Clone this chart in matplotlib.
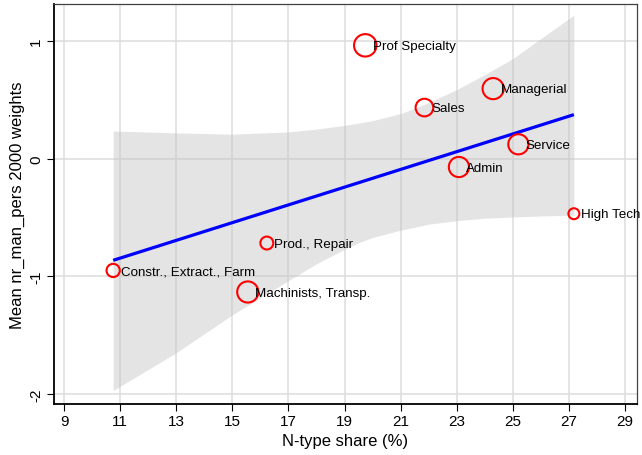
import numpy as np
import matplotlib
matplotlib.use("Agg")
import matplotlib.pyplot as plt

plt.rcParams['font.family'] = ['Liberation Sans', 'DejaVu Sans']

# occupation groups: N-type share (%) vs mean outcome, marker area = weight
labels = ['Prof Specialty', 'Managerial', 'Sales', 'Service', 'Admin',
          'High Tech', 'Prod., Repair', 'Constr., Extract., Farm',
          'Machinists, Transp.']
ntype_share = [19.74, 24.30, 21.85, 25.20, 23.08, 27.18, 16.23, 10.75, 15.55]
mean_val = [0.963, 0.595, 0.434, 0.122, -0.071, -0.468, -0.717, -0.950, -1.133]
weights = [12.6, 11.2, 7.8, 10.2, 10.2, 3.0, 4.2, 4.4, 11.2]

# fitted line and its confidence band
fit_x = [10.75, 27.18]
fit_y = [-0.864, 0.374]
band_x = [10.75, 13, 15, 17, 18, 19, 19.5, 20, 21, 22, 23, 24, 25, 26, 27.18]
band_hi = [0.235, 0.219, 0.208, 0.227, 0.251, 0.283, 0.302, 0.323, 0.383,
           0.476, 0.587, 0.714, 0.850, 1.02, 1.22]
band_lo = [-1.970, -1.649, -1.327, -1.037, -0.893, -0.770, -0.714, -0.670,
           -0.608, -0.557, -0.527, -0.506, -0.496, -0.487, -0.480]

xticks = list(range(9, 30, 2))
yticks = [-2, -1, 0, 1]

fig = plt.figure(figsize=(6.42, 4.56), dpi=100)
ax = fig.add_axes([0.0841, 0.1118, 0.9081, 0.8772])

ax.set_xlim(8.64, 29.43)
ax.set_ylim(-2.085, 1.314)

ax.set_xticks(xticks)
ax.set_yticks(yticks)
ax.set_yticklabels([str(t) for t in yticks], rotation=90, va='center')
ax.grid(True, color='#dcdcdc', lw=1.1, zorder=0)
ax.set_axisbelow(True)

ax.fill_between(band_x, band_lo, band_hi, color='#c4c4c4', alpha=0.45,
                lw=0, zorder=1)
ax.plot(fit_x, fit_y, color='#0000ff', lw=2.3, zorder=2,
        solid_capstyle='butt')

sizes = np.array(weights) * 20.7
ax.scatter(ntype_share, mean_val, s=sizes, facecolors='none',
           edgecolors='#ff0000', linewidths=1.5, zorder=3)

for lab, x, y in zip(labels, ntype_share, mean_val):
    ax.annotate(lab, (x, y), xytext=(5.3, -0.5), textcoords='offset points',
                ha='left', va='center', fontsize=9.6, color='black',
                zorder=4)

ax.tick_params(axis='both', direction='out', length=5, width=0.8,
               labelsize=11, colors='black')
ax.tick_params(axis='x', pad=2)
ax.tick_params(axis='y', pad=3)

for side in ['left', 'bottom']:
    ax.spines[side].set_color('black')
    ax.spines[side].set_linewidth(1.3)
for side in ['top', 'right']:
    ax.spines[side].set_color('#404040')
    ax.spines[side].set_linewidth(0.9)

ax.set_xlabel('N-type share (%)', fontsize=12, labelpad=3.5)
ax.set_ylabel('Mean nr_man_pers 2000 weights', fontsize=12, labelpad=3)

fig.savefig('out.png', dpi=100)
